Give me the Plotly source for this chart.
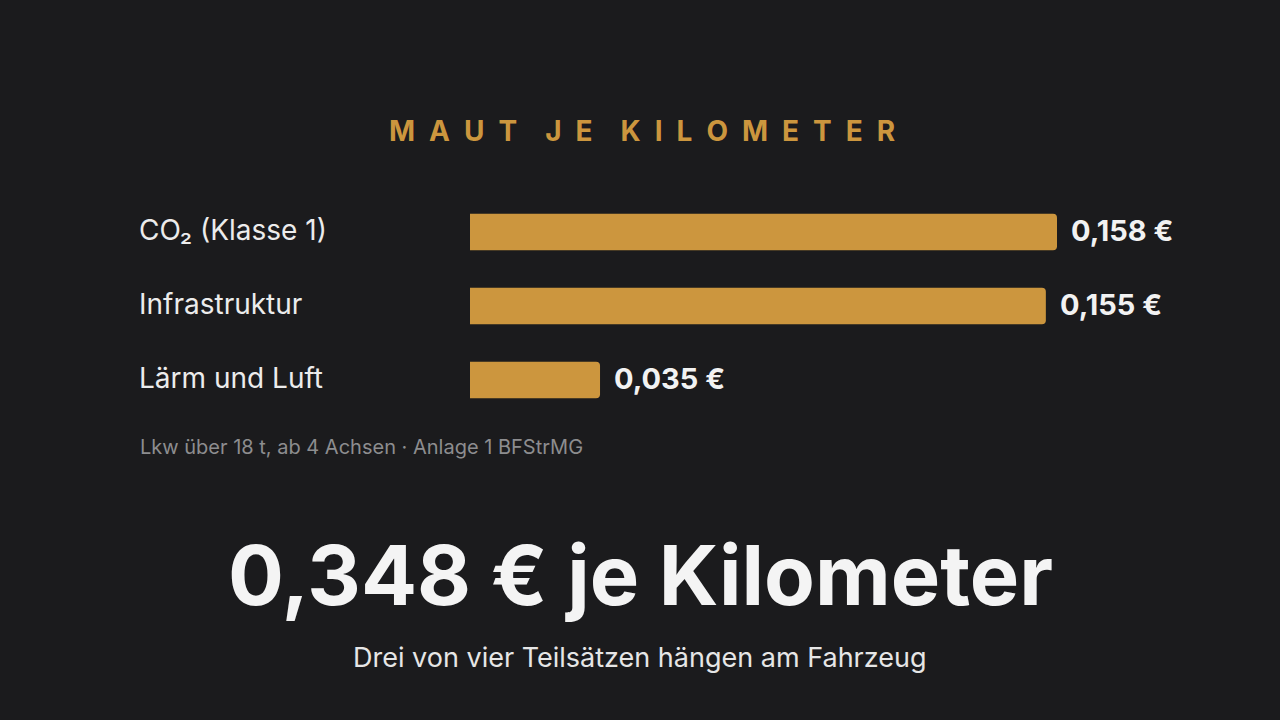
import plotly.graph_objects as go

categories = ["CO₂ (Klasse 1)", "Infrastruktur", "Lärm und Luft"]
values = [0.158, 0.155, 0.035]
value_labels = ["0,158 €", "0,155 €", "0,035 €"]
title_text = "MAUT JE KILOMETER"
footnote = "Lkw über 18 t, ab 4 Achsen · Anlage 1 BFStrMG"
headline = "0,348 € je Kilometer"
subline = "Drei von vier Teilsätzen hängen am Fahrzeug"

BG = "#1b1b1d"
GOLD = "#cc963e"
FONT = "Inter, Roboto, sans-serif"

fig = go.Figure()
fig.add_trace(go.Bar(
    x=values, y=categories, orientation="h",
    marker=dict(color=GOLD, line=dict(width=0)),
    width=0.49, hoverinfo="skip",
))

L, R, T, B = 470, 100, 195, 303
W = 1280 - L - R
H = 720 - T - B

def px_x(p):
    return (p - L) / W

def px_y(p):
    return (720 - p - B) / H

annotations = []
for c, v, lab in zip(categories, values, value_labels):
    annotations.append(dict(x=px_x(137), xref="paper", y=c, yref="y", yshift=2,
                            text=c, showarrow=False, xanchor="left", yanchor="middle",
                            font=dict(family=FONT, size=28, color="#ececec")))
    annotations.append(dict(x=v, xref="x", y=c, yref="y", text=lab, yshift=2,
                            showarrow=False, xanchor="left", yanchor="middle", xshift=12,
                            font=dict(family=FONT, size=29, color="#f2f2f2", weight="bold")))

sp = "\u2002"
spaced = (sp * 2).join(sp.join(w) for w in title_text.split(" "))
annotations += [
    dict(x=px_x(642), xref="paper", y=px_y(131), yref="paper",
         text=spaced, showarrow=False, xanchor="center", yanchor="middle",
         font=dict(family=FONT, size=28, color=GOLD, weight="bold")),
    dict(x=px_x(138), xref="paper", y=px_y(447), yref="paper",
         text=footnote, showarrow=False, xanchor="left", yanchor="middle",
         font=dict(family=FONT, size=20, color="#8d8d8f")),
    dict(x=px_x(640), xref="paper", y=px_y(575), yref="paper",
         text=headline, showarrow=False, xanchor="center", yanchor="middle",
         font=dict(family=FONT, size=83, color="#f4f4f4", weight="bold")),
    dict(x=px_x(640), xref="paper", y=px_y(657), yref="paper",
         text=subline, showarrow=False, xanchor="center", yanchor="middle",
         font=dict(family=FONT, size=27, color="#e6e6e6")),
]

fig.update_layout(
    width=1280, height=720,
    paper_bgcolor=BG, plot_bgcolor=BG,
    margin=dict(l=L, r=R, t=T, b=B),
    showlegend=False,
    barcornerradius=4,
    xaxis=dict(range=[0, W / (1057 - 470) * 0.158], visible=False, fixedrange=True),
    yaxis=dict(autorange="reversed", visible=False, fixedrange=True),
    annotations=annotations,
)

fig.write_html(
    "out.html",
    config={"displayModeBar": False},
    post_script="document.body.style.margin='0';document.body.style.background='#1b1b1d';",
)
